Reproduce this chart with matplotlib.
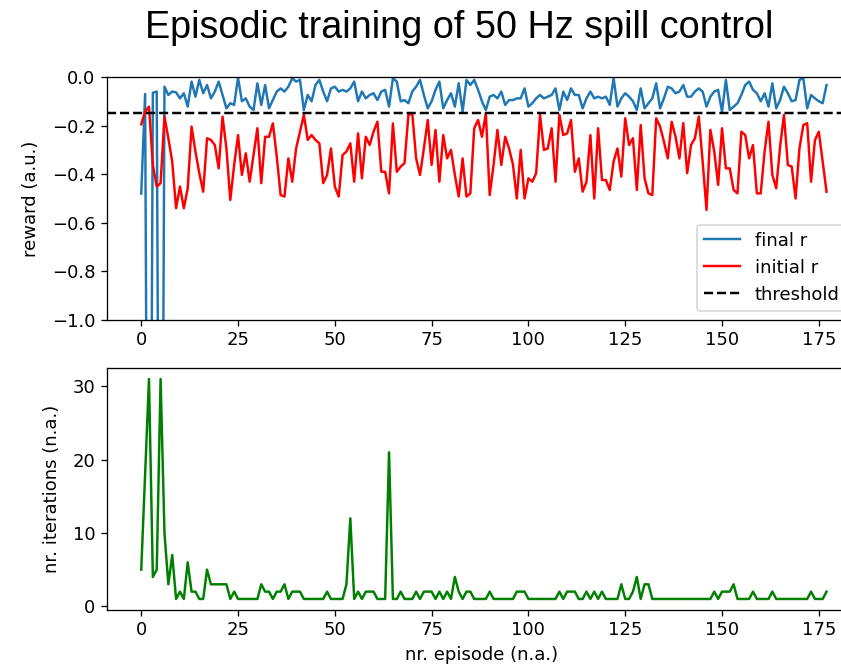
import numpy as np
from matplotlib import pyplot as plt

# episode-wise rewards
final_r = [-0.48, -0.07, -3.5, -0.065, -0.06, -3.5, -0.04, -0.074, -0.06, -0.063,
           -0.088, -0.067, -0.122, -0.019, -0.081, -0.012, -0.067, -0.033, -0.088, -0.06,
           -0.019, -0.074, -0.129, -0.108, -0.115, -0.002, -0.10, -0.088, -0.122, -0.136,
           -0.026, -0.115, -0.033, -0.129, -0.095, -0.06, -0.047, -0.06, -0.04, -0.005,
           -0.019, -0.012, -0.136, -0.074, -0.10, -0.033, -0.012, -0.06, -0.10, -0.047,
           -0.04, -0.06, -0.053, -0.06, -0.047, -0.019, -0.10, -0.06, -0.088, -0.074,
           -0.067, -0.095, -0.06, -0.053, -0.122, -0.005, -0.019, -0.10, -0.095, -0.108,
           -0.06, -0.04, -0.012, -0.074, -0.129, -0.10, -0.053, -0.019, -0.129, -0.095,
           -0.067, -0.122, -0.026, -0.143, -0.012, -0.033, -0.012, -0.053, -0.10, -0.136,
           -0.081, -0.074, -0.088, -0.06, -0.115, -0.095, -0.095, -0.088, -0.088, -0.047,
           -0.122, -0.108, -0.088, -0.074, -0.088, -0.081, -0.074, -0.047, -0.136, -0.06,
           -0.095, -0.047, -0.074, -0.074, -0.129, -0.088, -0.06, -0.088, -0.081, -0.088,
           -0.081, -0.115, -0.005, -0.122, -0.088, -0.067, -0.081, -0.10, -0.136, -0.047,
           -0.129, -0.108, -0.088, -0.026, -0.129, -0.088, -0.04, -0.047, -0.067, -0.06,
           -0.033, -0.081, -0.081, -0.06, -0.047, -0.06, -0.122, -0.081, -0.06, -0.053,
           -0.143, -0.012, -0.136, -0.122, -0.108, -0.074, -0.033, -0.019, -0.053, -0.067,
           -0.10, -0.067, -0.122, -0.026, -0.129, -0.095, -0.04, -0.067, -0.10, -0.095,
           -0.012, -0.005, -0.129, -0.074, -0.088, -0.10, -0.108, -0.033]

initial_r = [-0.195, -0.143, -0.122, -0.362, -0.451, -0.437, -0.163, -0.252, -0.348, -0.54,
             -0.451, -0.54, -0.458, -0.204, -0.307, -0.396, -0.472, -0.252, -0.259, -0.28,
             -0.376, -0.163, -0.294, -0.506, -0.362, -0.239, -0.403, -0.314, -0.431, -0.321,
             -0.211, -0.437, -0.246, -0.246, -0.191, -0.328, -0.486, -0.492, -0.335, -0.431,
             -0.294, -0.225, -0.156, -0.259, -0.239, -0.259, -0.273, -0.437, -0.403, -0.294,
             -0.451, -0.492, -0.321, -0.307, -0.273, -0.431, -0.232, -0.417, -0.246, -0.28,
             -0.225, -0.184, -0.39, -0.39, -0.479, -0.191, -0.39, -0.369, -0.355, -0.156,
             -0.15, -0.335, -0.403, -0.294, -0.177, -0.362, -0.218, -0.431, -0.239, -0.335,
             -0.30, -0.403, -0.492, -0.335, -0.492, -0.479, -0.211, -0.177, -0.246, -0.15,
             -0.486, -0.362, -0.218, -0.362, -0.246, -0.294, -0.36, -0.50, -0.30, -0.50,
             -0.417, -0.431, -0.396, -0.156, -0.30, -0.294, -0.211, -0.431, -0.156, -0.239,
             -0.232, -0.177, -0.39, -0.335, -0.472, -0.431, -0.239, -0.50, -0.211, -0.424,
             -0.424, -0.465, -0.348, -0.294, -0.41, -0.17, -0.28, -0.252, -0.465, -0.198,
             -0.417, -0.479, -0.486, -0.17, -0.204, -0.266, -0.335, -0.184, -0.246, -0.335,
             -0.19, -0.396, -0.28, -0.252, -0.163, -0.348, -0.547, -0.218, -0.307, -0.444,
             -0.211, -0.376, -0.376, -0.465, -0.479, -0.225, -0.239, -0.335, -0.28, -0.479,
             -0.479, -0.307, -0.184, -0.403, -0.458, -0.287, -0.156, -0.362, -0.369, -0.50,
             -0.294, -0.198, -0.19, -0.431, -0.26, -0.225, -0.348, -0.472]

iterations = [5, 18, 31, 4, 5, 31, 10, 3, 7, 1, 2, 1, 6, 2, 2, 1, 1, 5, 3, 3,
              3, 3, 3, 1, 2, 1, 1, 1, 1, 1, 1, 3, 2, 2, 1, 2, 2, 3, 1, 2,
              2, 2, 1, 1, 1, 1, 1, 1, 2, 1, 1, 1, 1, 3, 12, 1, 2, 1, 2, 2,
              2, 1, 1, 1, 21, 1, 1, 2, 1, 1, 1, 2, 1, 2, 2, 2, 1, 2, 1, 2,
              1, 4, 2, 1, 2, 2, 1, 1, 1, 1, 2, 1, 1, 1, 1, 1, 1, 2, 2, 2,
              1, 1, 1, 1, 1, 1, 1, 1, 2, 1, 2, 2, 2, 1, 1, 2, 1, 2, 1, 2,
              1, 1, 1, 1, 3, 1, 1, 2, 4, 1, 3, 3, 1, 1, 1, 1, 1, 1, 1, 1,
              1, 1, 1, 1, 1, 1, 1, 1, 2, 1, 2, 2, 2, 3, 1, 1, 1, 1, 2, 1,
              1, 1, 1, 2, 1, 1, 1, 1, 1, 1, 1, 1, 1, 2, 1, 1, 1, 2]

threshold = -0.15
iter_ticks = [0, 10, 20, 30]
episodes = np.arange(len(final_r))

dpi = 118
fig = plt.figure(figsize=(841 / dpi, 670 / dpi), dpi=dpi)

# the axes run past the right edge, as in the cropped original
ax1 = fig.add_axes([0.1272, 0.5224, 0.8906, 0.3627])
ax2 = fig.add_axes([0.1272, 0.0896, 0.8906, 0.3612])

ax1.plot(episodes, final_r, label='final r')
ax1.plot(episodes, initial_r, 'r', label='initial r')
ax1.axhline(threshold, color='k', ls='--', label='threshold')
ax1.set_xlim(-8.85, 184.6)
ax1.set_ylim(-1, 0)
ax1.set_ylabel('reward (a.u.)', fontsize=11, labelpad=7)
ax1.legend(loc='lower right', fontsize=11)

ax2.plot(episodes, iterations, 'g')
ax2.set_xlim(-8.85, 184.6)
ax2.set_yticks(iter_ticks)
ax2.set_xlabel('nr. episode (n.a.)', fontsize=11)
ax2.set_ylabel('nr. iterations (n.a.)', fontsize=11, labelpad=7)

for ax in (ax1, ax2):
    ax.tick_params(labelsize=11)

fig.text(0.5464, 0.958, 'Episodic training of 50 Hz spill control',
         ha='center', va='center', fontsize=23, family='Liberation Sans')

fig.savefig('out.png', dpi=dpi)
